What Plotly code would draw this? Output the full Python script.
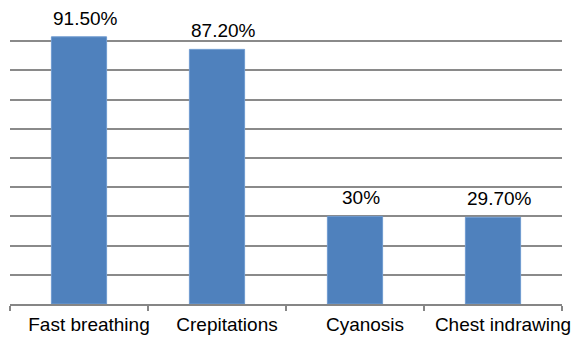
import plotly.graph_objects as go

categories = ["Fast breathing", "Crepitations", "Cyanosis", "Chest indrawing"]
values = [91.5, 87.2, 30.0, 29.7]
value_labels = ["91.50%", "87.20%", "30%", "29.70%"]

FONT = "Liberation Sans, Arial, sans-serif"

fig = go.Figure()
fig.add_trace(go.Bar(
    x=categories, y=values,
    marker=dict(color="#4F81BD", line=dict(color="#6f9bd0", width=1)),
    width=0.4,
    hoverinfo="skip",
))

for c, v, t in zip(categories, values, value_labels):
    fig.add_annotation(x=c, y=v, text=t, showarrow=False, yanchor="bottom",
                       yshift=6, xshift=6,
                       font=dict(family=FONT, size=19, color="#000000"))

fig.update_layout(
    width=575, height=339,
    margin=dict(l=10, r=13, t=12, b=35, autoexpand=False),
    plot_bgcolor="white", paper_bgcolor="white",
    showlegend=False,
    font=dict(family=FONT, size=19, color="#000000"),
)
fig.update_xaxes(
    showline=True, linecolor="#868686", linewidth=1.5,
    ticks="outside", tickson="boundaries", ticklen=5, tickcolor="#868686", tickwidth=1.5,
    ticklabelshift=10, ticklabelstandoff=2, tickangle=0, automargin=False,
    tickfont=dict(family=FONT, size=19, color="#000000"),
    showgrid=False,
)
fig.update_yaxes(
    range=[0, 100], dtick=10, showticklabels=False,
    showgrid=True, gridcolor="#8a8a8a", gridwidth=1.5,
    zeroline=False, showline=False, ticks="", automargin=False,
)

fig.write_html("out.html")
